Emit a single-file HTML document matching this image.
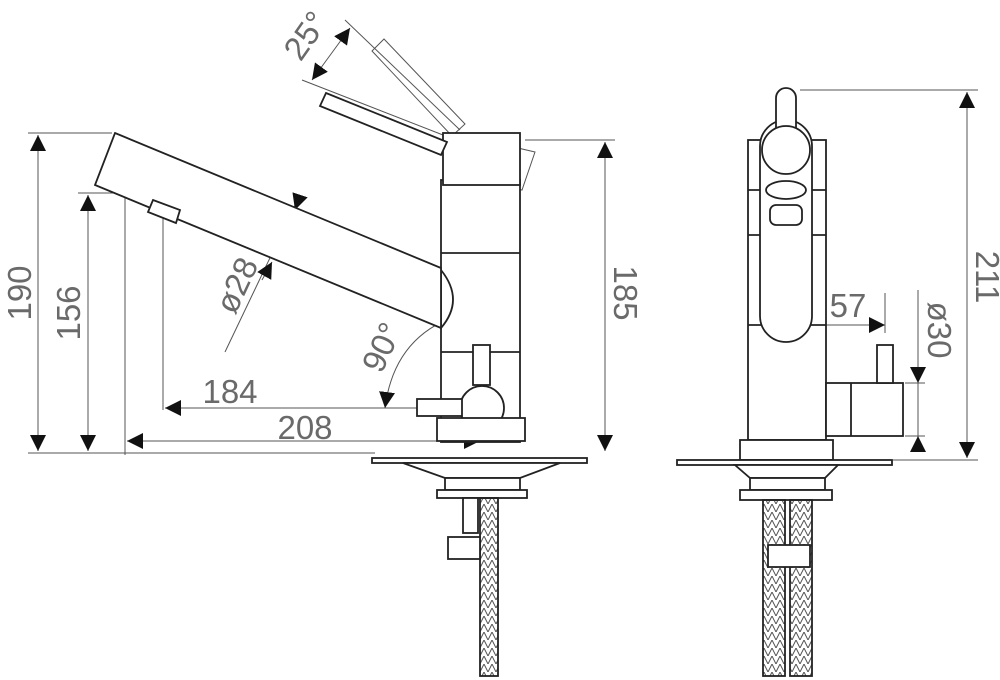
<!DOCTYPE html>
<html><head><meta charset="utf-8"><style>
html,body{margin:0;padding:0;background:#fff;}
svg{display:block}
text{font-family:"Liberation Sans",sans-serif;font-size:33px;fill:#6a6a6a;}
</style></head><body>
<svg width="1000" height="680" viewBox="0 0 1000 680" xmlns="http://www.w3.org/2000/svg">
<defs>
<marker id="a" viewBox="0 0 10 10" refX="10" refY="5" markerWidth="16" markerHeight="16" markerUnits="userSpaceOnUse" orient="auto-start-reverse"><path d="M0,0L10,5L0,10z" fill="#111"/></marker>
<pattern id="h" width="8" height="8" patternUnits="userSpaceOnUse"><path d="M0,8L4,0L8,8" stroke="#555" stroke-width="1" fill="none"/></pattern>
</defs>
<g stroke="#555" stroke-width="1" fill="none">
<line x1="28" y1="453" x2="375" y2="453"/>
<line x1="28" y1="133" x2="112" y2="133"/>
<line x1="78" y1="193" x2="120" y2="193"/>
<line x1="125" y1="195" x2="125" y2="455"/>
<line x1="163" y1="218" x2="163" y2="410"/>
<line x1="525" y1="140" x2="615" y2="140"/>
<line x1="482" y1="305" x2="482" y2="345"/>
<line x1="302" y1="80" x2="443" y2="135"/>
<line x1="345" y1="20" x2="460" y2="130"/>
<line x1="225" y1="352" x2="300" y2="195"/>
<line x1="38" y1="135" x2="38" y2="451" marker-start="url(#a)" marker-end="url(#a)"/>
<line x1="88" y1="195" x2="88" y2="451" marker-start="url(#a)" marker-end="url(#a)"/>
<line x1="605" y1="142" x2="605" y2="451" marker-start="url(#a)" marker-end="url(#a)"/>
<line x1="127" y1="441" x2="480" y2="441" marker-start="url(#a)" marker-end="url(#a)"/>
<line x1="165" y1="408" x2="480" y2="408" marker-start="url(#a)" marker-end="url(#a)"/>
<line x1="300" y1="195" x2="295" y2="210" marker-end="url(#a)"/>
<line x1="262" y1="280" x2="272" y2="262" marker-end="url(#a)"/>
<line x1="350" y1="28" x2="312" y2="80" marker-start="url(#a)" marker-end="url(#a)"/>
<path d="M470,312 Q395,330 385,408" marker-start="url(#a)" marker-end="url(#a)"/>
<polygon points="384,39 465,124 452,136 372,51"/>
<polygon points="458,134 535,152 522,190 446,176"/>
<line x1="800" y1="90" x2="978" y2="90"/>
<line x1="893" y1="460" x2="978" y2="460"/>
<line x1="967" y1="92" x2="967" y2="458" marker-start="url(#a)" marker-end="url(#a)"/>
<line x1="885" y1="293" x2="885" y2="333"/>
<line x1="790" y1="325" x2="885" y2="325" marker-start="url(#a)" marker-end="url(#a)"/>
<line x1="918" y1="290" x2="918" y2="450"/>
<line x1="905" y1="383" x2="925" y2="383"/>
<line x1="905" y1="436" x2="925" y2="436"/>
<line x1="918" y1="368" x2="918" y2="383" marker-end="url(#a)"/>
<line x1="918" y1="452" x2="918" y2="436" marker-end="url(#a)"/>
</g>
<g stroke="#222" stroke-width="1.8" fill="#fff">
<rect x="441" y="180" width="79" height="262"/>
<line x1="441" y1="253" x2="520" y2="253"/>
<line x1="441" y1="352" x2="520" y2="352"/>
<rect x="443" y="133" width="77" height="52"/>
<polygon points="115,133 441,268 441,328 95,185"/>
<path d="M441,270 Q465,300 441,328" fill="none"/>
<polygon points="153,200 180,210 176,223 148,212"/>
<polygon points="326,93 447,142 441,155 320,106"/>
<rect x="473" y="345" width="17" height="40"/>
<circle cx="482" cy="408" r="22"/>
<rect x="417" y="399" width="45" height="17"/>
<rect x="437" y="418" width="88" height="23"/>
<rect x="372" y="458" width="215" height="5"/>
<polygon points="403,463 560,463 520,478 445,478"/>
<rect x="445" y="478" width="75" height="12"/>
<rect x="437" y="490" width="90" height="8"/>
<rect x="480" y="498" width="18" height="178" fill="url(#h)"/>
<rect x="463" y="498" width="15" height="35"/>
<rect x="448" y="537" width="32" height="22"/>
<rect x="748" y="140" width="78" height="300"/>
<line x1="748" y1="190" x2="826" y2="190"/>
<line x1="748" y1="235" x2="826" y2="235"/>
<line x1="748" y1="325" x2="826" y2="325"/>
<rect x="760" y="120" width="52" height="222" rx="26"/>
<rect x="776" y="88" width="20" height="50" rx="10"/>
<circle cx="786" cy="150" r="24"/>
<ellipse cx="786" cy="190" rx="20" ry="9"/>
<rect x="770" y="205" width="32" height="20" rx="6"/>
<rect x="826" y="383" width="77" height="53"/>
<line x1="851" y1="383" x2="851" y2="436"/>
<rect x="877" y="345" width="16" height="38"/>
<rect x="740" y="440" width="93" height="20"/>
<rect x="677" y="460" width="215" height="5"/>
<polygon points="735,465 838,465 825,478 750,478"/>
<rect x="750" y="478" width="75" height="12"/>
<rect x="740" y="490" width="92" height="10"/>
<rect x="763" y="500" width="22" height="176" fill="url(#h)"/>
<rect x="790" y="500" width="22" height="176" fill="url(#h)"/>
<rect x="768" y="545" width="42" height="22"/>
</g>
<g>
<text transform="translate(31,293) rotate(-90)" text-anchor="middle">190</text>
<text transform="translate(80,313) rotate(-90)" text-anchor="middle">156</text>
<text transform="translate(614,293) rotate(90)" text-anchor="middle">185</text>
<text x="230" y="403" text-anchor="middle">184</text>
<text x="305" y="439" text-anchor="middle">208</text>
<text transform="translate(247,290) rotate(-65)" text-anchor="middle">ø28</text>
<text transform="translate(392,352) rotate(-65)" text-anchor="middle">90°</text>
<text transform="translate(315,42) rotate(-55)" text-anchor="middle">25°</text>
<text transform="translate(976,277) rotate(90)" text-anchor="middle">211</text>
<text x="848" y="317" text-anchor="middle">57</text>
<text transform="translate(928,330) rotate(90)" text-anchor="middle">ø30</text>
</g>
</svg>
</body></html>
